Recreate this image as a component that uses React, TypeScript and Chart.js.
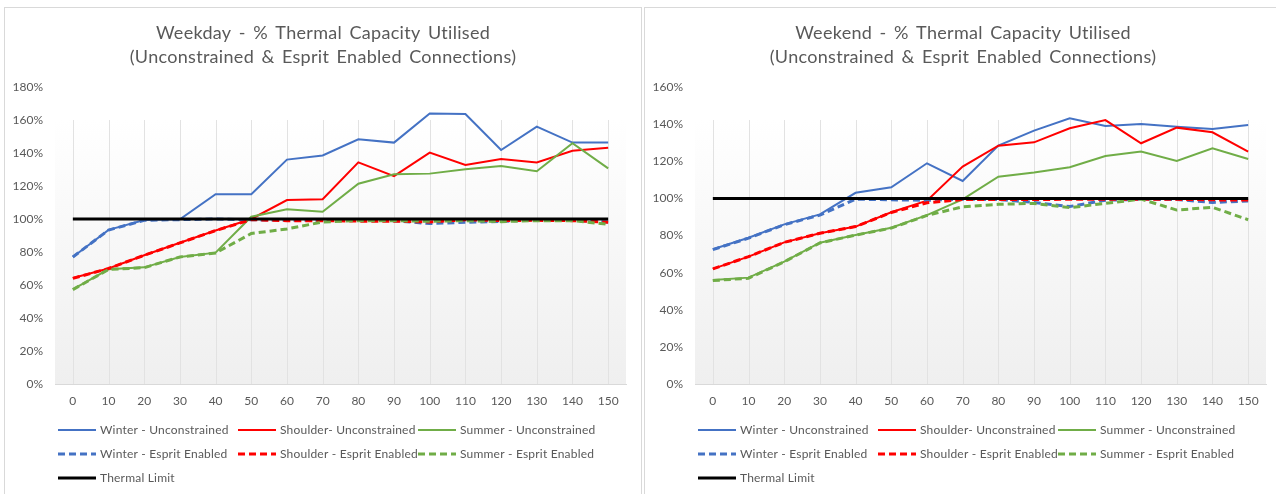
import React, { useEffect, useRef } from "react";
import { Chart, registerables } from "chart.js";

Chart.register(...registerables);

const categories = ["0", "10", "20", "30", "40", "50", "60", "70", "80", "90", "100", "110", "120", "130", "140", "150"];

const seriesLabels = [
  "Winter - Unconstrained",
  "Shoulder- Unconstrained",
  "Summer - Unconstrained",
  "Winter - Esprit Enabled",
  "Shoulder - Esprit Enabled",
  "Summer - Esprit Enabled",
  "Thermal Limit",
];

// Weekday values (%)
const weekdayWinterUnconstrained = [77, 93.4, 99.4, 99.8, 115, 115, 136, 138.5, 148.3, 146.3, 164, 163.6, 141.8, 156, 146.3, 146.3];
const weekdayShoulderUnconstrained = [64.2, 70, 78, 85.6, 93, 100, 111.5, 112, 134.3, 126, 140.2, 132.7, 136.4, 134.3, 141.4, 143.2];
const weekdaySummerUnconstrained = [57.4, 69.5, 70.7, 77, 79.6, 101.4, 105.9, 104.4, 121.4, 127.1, 127.5, 130.1, 132.1, 128.9, 145.9, 130.7];
const weekdayWinterEsprit = [77, 93.3, 99.2, 99.6, 100, 99.5, 99.3, 99.3, 99.2, 99, 97.2, 98, 98.5, 99.6, 99.2, 98.2];
const weekdayShoulderEsprit = [64, 70, 78, 85.5, 93, 99.6, 99, 99, 98.7, 98.7, 98.2, 99.5, 99, 99.2, 99, 98];
const weekdaySummerEsprit = [57.2, 69.4, 70.5, 77, 79.4, 91.2, 94, 98.2, 99, 99, 98.6, 99, 98.4, 99, 99, 96.8];
const weekdayThermalLimit = [100, 100, 100, 100, 100, 100, 100, 100, 100, 100, 100, 100, 100, 100, 100, 100];

// Weekend values (%)
const weekendWinterUnconstrained = [72.6, 78.8, 86, 91.4, 103, 106, 118.9, 109.4, 128.4, 136.5, 143.2, 139, 140.1, 138.6, 137.4, 139.5];
const weekendShoulderUnconstrained = [62, 68.6, 76.3, 81.2, 84.8, 92.5, 98.8, 117.1, 128.4, 130.2, 137.8, 142.2, 129.7, 138.1, 135.6, 125.2];
const weekendSummerUnconstrained = [56, 57.3, 65.9, 76.1, 80.3, 84.2, 91, 99.5, 111.7, 113.9, 116.8, 122.8, 125.2, 120.2, 127, 121.2];
const weekendWinterEsprit = [72.4, 78.6, 85.8, 91, 99.6, 99.2, 99, 99.5, 99.4, 97.8, 95.6, 99, 99.5, 99.4, 97.8, 98.6];
const weekendShoulderEsprit = [62, 68.6, 76.3, 81.2, 84.8, 92.4, 97.6, 99.4, 99.4, 99.4, 99.5, 99.5, 99.6, 99.5, 99.2, 99.1];
const weekendSummerEsprit = [55.7, 57, 65.8, 76, 80.2, 84, 90.8, 95.5, 96.8, 97.3, 95, 97.3, 99.6, 93.7, 95.2, 88.5];
const weekendThermalLimit = [100, 100, 100, 100, 100, 100, 100, 100, 100, 100, 100, 100, 100, 100, 100, 100];

const weekdayTitle = ["Weekday - % Thermal Capacity Utilised", "(Unconstrained & Esprit Enabled Connections)"];
const weekendTitle = ["Weekend - % Thermal Capacity Utilised", "(Unconstrained & Esprit Enabled Connections)"];
const weekdayAxisMax = 180;
const weekendAxisMax = 160;
const axisStep = 20;

const BLUE = "#4472C4";
const RED = "#FF0000";
const GREEN = "#70AD47";
const BLACK = "#000000";
const TEXT = "#595959";
const FONT = "Lato, 'Open Sans', sans-serif";

const W = 636;
const H = 492;

function buildDatasets(values: number[][]) {
  const colors = [BLUE, RED, GREEN, BLUE, RED, GREEN, BLACK];
  return values.map((data, i) => {
    const dashed = i >= 3 && i <= 5;
    return {
      label: seriesLabels[i],
      data,
      borderColor: colors[i],
      backgroundColor: colors[i],
      borderWidth: i === 6 ? 3 : dashed ? 3 : 2,
      borderDash: dashed ? [7, 4] : [],
      pointRadius: 0,
      pointHoverRadius: 0,
      tension: 0,
      fill: false,
      order: 6 - i,
    };
  });
}

const plotBgPlugin = {
  id: "plotBg",
  beforeDraw(chart: any) {
    const { ctx, chartArea } = chart;
    const top = chartArea.top + 33;
    const g = ctx.createLinearGradient(0, top, 0, chartArea.bottom);
    g.addColorStop(0, "#ffffff");
    g.addColorStop(1, "#efefef");
    ctx.save();
    ctx.fillStyle = g;
    ctx.fillRect(chartArea.left, top, chartArea.right - chartArea.left, chartArea.bottom - top);
    ctx.restore();
  },
  beforeDatasetsDraw(chart: any) {
    const { ctx, chartArea } = chart;
    const xScale = chart.scales.x;
    const top = chartArea.top + 33;
    ctx.save();
    ctx.strokeStyle = "#e2e2e2";
    ctx.lineWidth = 1;
    categories.forEach((_, i) => {
      const x = Math.round(xScale.getPixelForValue(i)) + 0.5;
      ctx.beginPath();
      ctx.moveTo(x, top);
      ctx.lineTo(x, chartArea.bottom);
      ctx.stroke();
    });
    ctx.restore();
  },
};

const titleLegendPlugin = {
  id: "titleLegend",
  afterDraw(chart: any) {
    const { ctx, chartArea } = chart;
    const opts = chart.options.plugins.titleLegend;
    ctx.save();
    // Title
    ctx.fillStyle = TEXT;
    ctx.font = `18px ${FONT}`;
    (ctx as any).letterSpacing = "0.3px";
    (ctx as any).wordSpacing = "2.5px";
    ctx.textAlign = "center";
    ctx.textBaseline = "middle";
    const cx = chart.width / 2;
    opts.title.forEach((line: string, i: number) => {
      ctx.fillText(line, cx, 25 + i * 24);
    });
    // Legend
    ctx.font = `12px ${FONT}`;
    (ctx as any).letterSpacing = "0.2px";
    (ctx as any).wordSpacing = "0px";
    ctx.textAlign = "left";
    const datasets = chart.data.datasets;
    datasets.forEach((ds: any, i: number) => {
      const col = i === 6 ? 0 : i % 3;
      const row = Math.floor(i / 3);
      const x = chartArea.left + 3 + col * 180;
      const y = chartArea.bottom + 46 + row * 24;
      ctx.beginPath();
      ctx.strokeStyle = ds.borderColor;
      ctx.lineWidth = ds.borderWidth;
      ctx.setLineDash(ds.borderDash || []);
      ctx.moveTo(x, y);
      ctx.lineTo(x + 38, y);
      ctx.stroke();
      ctx.setLineDash([]);
      ctx.fillStyle = TEXT;
      ctx.fillText(ds.label, x + 42, y);
    });
    ctx.restore();
  },
};

function ChartPanel({ title, values, max }: { title: string[]; values: number[][]; max: number }) {
  const ref = useRef<HTMLCanvasElement | null>(null);
  useEffect(() => {
    if (!ref.current) return;
    const chart = new Chart(ref.current, {
      type: "line",
      data: { labels: categories, datasets: buildDatasets(values) as any },
      options: {
        animation: false,
        responsive: false,
        layout: { padding: { top: 79, left: 0, right: 15, bottom: 86 } },
        plugins: {
          legend: { display: false },
          title: { display: false },
          tooltip: { enabled: false },
          titleLegend: { title },
        } as any,
        scales: {
          x: {
            offset: true,
            grid: { display: false, drawTicks: false },
            border: { display: true, color: "#d9d9d9" },
            ticks: { color: TEXT, font: { size: 12, family: FONT }, padding: 10, maxRotation: 0, autoSkip: false },
            afterFit(scale: any) {
              scale.height = 30;
            },
          },
          y: {
            min: 0,
            max,
            grid: { display: false, drawTicks: false },
            border: { display: false },
            ticks: {
              stepSize: axisStep,
              color: TEXT,
              font: { size: 12, family: FONT },
              padding: 12,
              callback: (v: any) => `${v}%`,
            },
            afterFit(scale: any) {
              scale.width = 50;
            },
          },
        },
      },
      plugins: [plotBgPlugin, titleLegendPlugin],
    });
    return () => chart.destroy();
  }, []);
  return <canvas ref={ref} width={W} height={H} style={{ display: "block", width: W, height: H }} />;
}

export default function App() {
  const weekday = [
    weekdayWinterUnconstrained,
    weekdayShoulderUnconstrained,
    weekdaySummerUnconstrained,
    weekdayWinterEsprit,
    weekdayShoulderEsprit,
    weekdaySummerEsprit,
    weekdayThermalLimit,
  ];
  const weekend = [
    weekendWinterUnconstrained,
    weekendShoulderUnconstrained,
    weekendSummerUnconstrained,
    weekendWinterEsprit,
    weekendShoulderEsprit,
    weekendSummerEsprit,
    weekendThermalLimit,
  ];
  const panel = (left: number): React.CSSProperties => ({
    position: "absolute",
    left,
    top: 7,
    width: 638,
    height: 500,
    border: "1px solid #d9d9d9",
    boxSizing: "border-box",
    background: "#ffffff",
    overflow: "hidden",
  });
  return (
    <div style={{ position: "fixed", left: 0, top: 0, width: 1276, height: 494, overflow: "hidden", background: "#ffffff" }}>
      <div style={panel(4)}>
        <ChartPanel title={weekdayTitle} values={weekday} max={weekdayAxisMax} />
      </div>
      <div style={panel(644)}>
        <ChartPanel title={weekendTitle} values={weekend} max={weekendAxisMax} />
      </div>
    </div>
  );
}
